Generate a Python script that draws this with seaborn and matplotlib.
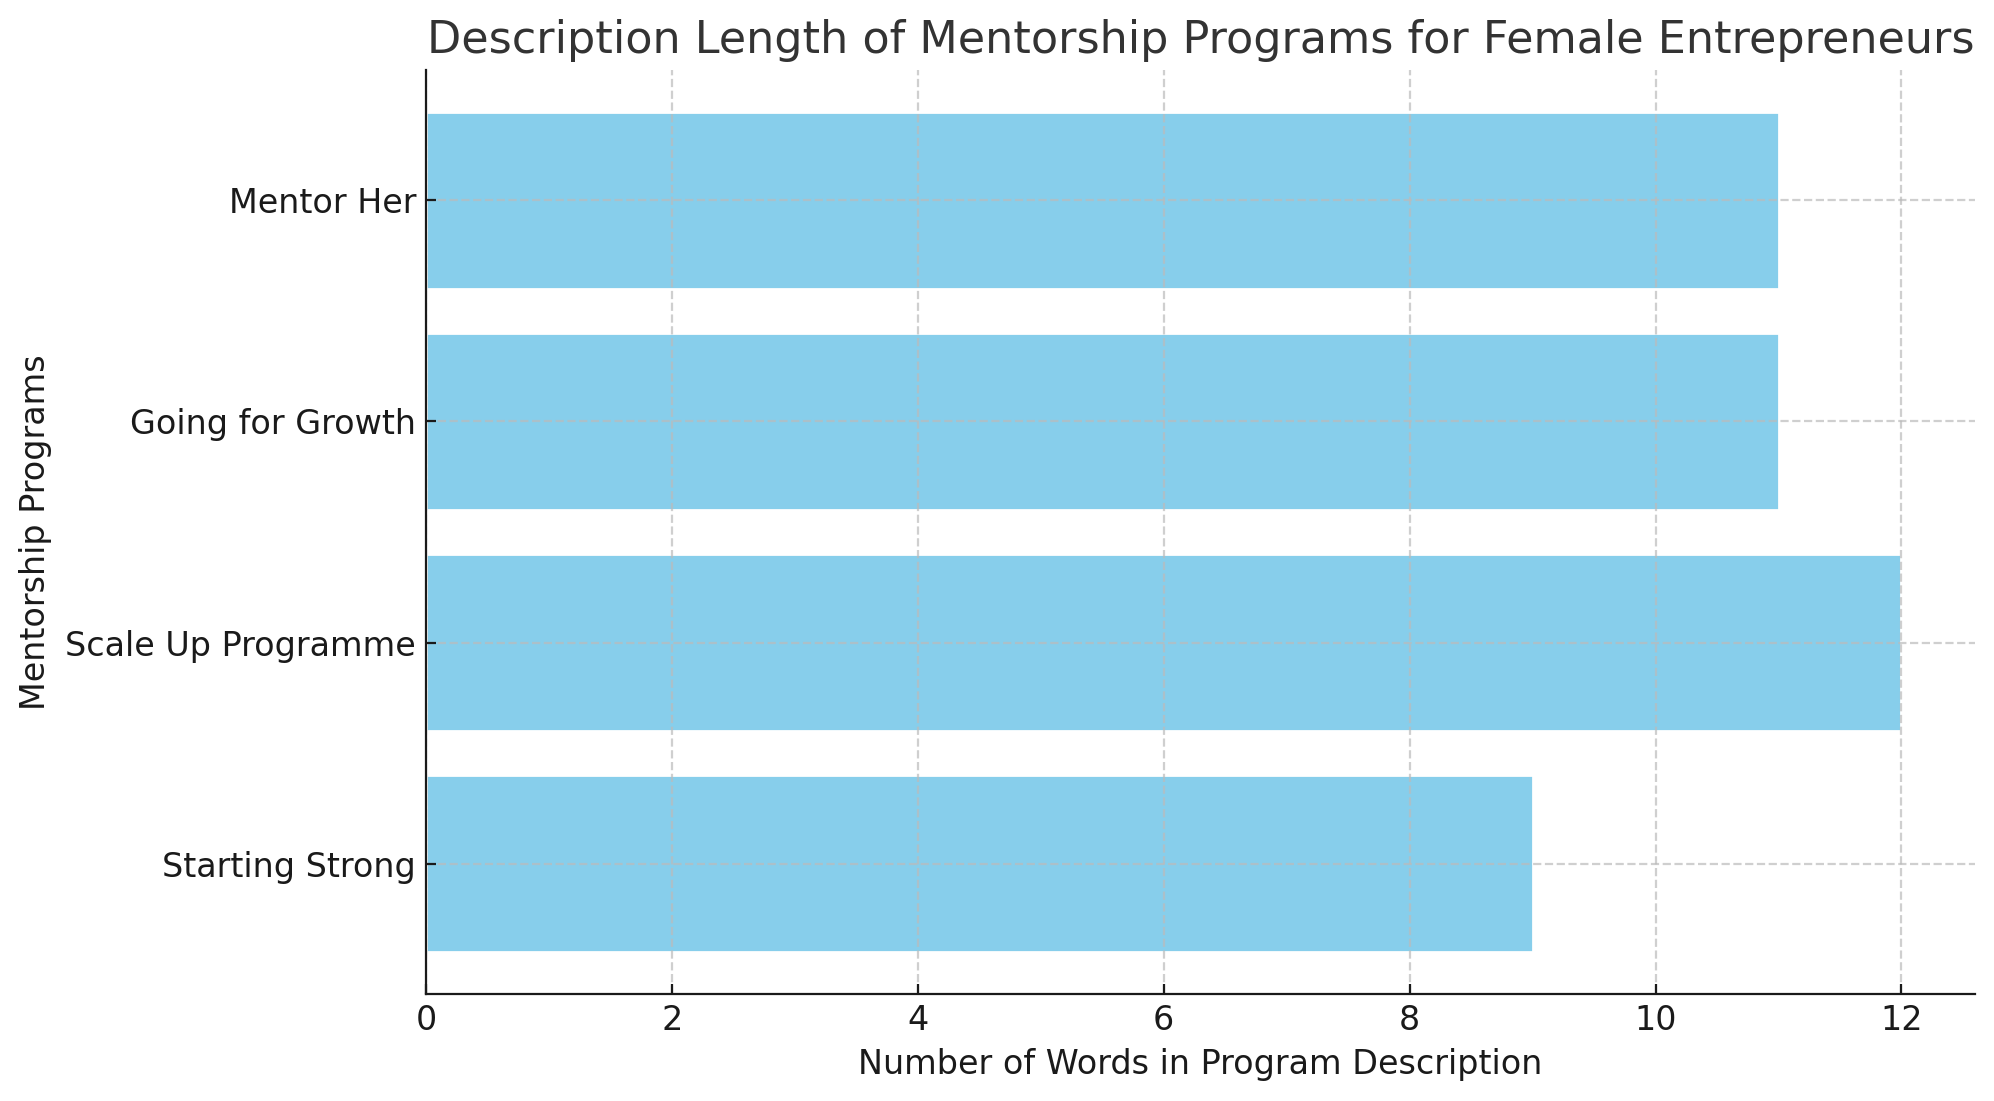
import pandas as pd
import matplotlib
matplotlib.use("Agg")
import matplotlib.pyplot as plt
import seaborn as sns

# Данные
programs = ["Mentor Her", "Going for Growth", "Scale Up Programme", "Starting Strong"]
word_counts = [11, 11, 12, 9]

df = pd.DataFrame({"program": programs, "words": word_counts})

sns.set_style("ticks")
plt.rcParams["font.family"] = ["DejaVu Sans"]

fig = plt.figure(figsize=(9.97, 5.505), dpi=200)
ax = fig.add_axes([0.2136, 0.0972, 0.777, 0.8392])

sns.barplot(
    data=df,
    x="words",
    y="program",
    orient="h",
    color="skyblue",
    saturation=1,
    width=0.8,
    ax=ax
)

ax.set_xlim(0, 12.6)
ax.set_ylim(3.59, -0.59)

ax.set_title("Description Length of Mentorship Programs for Female Entrepreneurs",
             fontsize=16, color="#333333")
ax.set_xlabel("Number of Words in Program Description", fontsize=12, color="#1a1a1a")
ax.set_ylabel("Mentorship Programs", fontsize=12, color="#1a1a1a", labelpad=5)
ax.tick_params(labelsize=12, direction="in", colors="#1a1a1a")

ax.set_axisbelow(False)
ax.grid(True, linestyle="--", color="#bbbbbb", alpha=0.7, linewidth=0.8)

ax.spines["top"].set_visible(False)
ax.spines["right"].set_visible(False)
for side in ["left", "bottom"]:
    ax.spines[side].set_zorder(5)
    ax.spines[side].set_color("#1a1a1a")

fig.savefig("out.png", dpi=200)
